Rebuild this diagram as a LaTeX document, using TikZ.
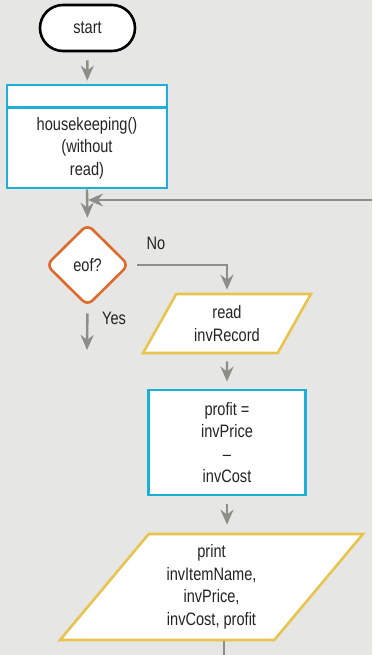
\documentclass[tikz,border=0pt]{standalone}
\usepackage{fontspec}
\setmainfont{Liberation Sans}[FakeStretch=0.81]
\usepackage{xcolor}
\usepackage{tikz}
\usetikzlibrary{arrows.meta,positioning,calc,shapes.geometric}

\definecolor{bgGray}{RGB}{230,230,228}
\definecolor{flowGray}{RGB}{142,142,136}
\definecolor{procBlue}{RGB}{29,176,214}
\definecolor{ioYellow}{RGB}{232,196,78}
\definecolor{decOrange}{RGB}{222,106,44}
\definecolor{textDark}{RGB}{35,35,35}

\tikzset{
    every node/.style={font=\fontsize{18}{22.5}\selectfont, text=textDark, align=center},
    terminal/.style={draw=black, fill=white, line width=2.6pt, rounded corners=23pt,
        minimum width=95pt, minimum height=46pt, inner sep=0pt},
    procbox/.style={draw=procBlue, fill=white, line width=2.8pt, inner sep=0pt},
    iobox/.style={trapezium, draw=ioYellow, fill=white, line width=2.6pt,
        trapezium stretches=true, inner sep=0pt},
    decision/.style={diamond, draw=decOrange, fill=white, line width=2.6pt,
        rounded corners=7pt, inner sep=0pt, minimum width=83pt, minimum height=82pt},
    flow/.style={draw=flowGray, line width=2.4pt, -{Stealth[length=15pt,width=13pt,inset=5pt]}},
    flowline/.style={draw=flowGray, line width=2.4pt},
}

\begin{document}
\begin{tikzpicture}[x=1pt,y=1pt]
    \fill[bgGray] (0,0) rectangle (372,655);
    \useasboundingbox (0,0) rectangle (372,655);

    \node[terminal] (start) at (87.5,627) {start};

    \node[procbox, minimum width=160pt, minimum height=103pt] (hk) at (87,518.5) {};
    \draw[procBlue, line width=2.8pt] ($(hk.north west)+(0,-24)$) -- ($(hk.north east)+(0,-24)$);
    \node (hktext) at (87,507) {housekeeping()\\(without\\read)};

    \node[decision] (eof) at (87.5,390) {eof?};

    \node[iobox, trapezium left angle=59, trapezium right angle=121,
        minimum width=168pt, minimum height=59pt] (read) at (227,331.5) {read\\invRecord};

    \node[procbox, minimum width=157pt, minimum height=105pt] (profit) at (227,212.5)
        {profit =\\invPrice\\--\\invCost};

    \node[iobox, trapezium left angle=53, trapezium right angle=127,
        minimum width=303pt, minimum height=106pt] (print) at (211.5,68)
        {print\\invItemName,\\invPrice,\\invCost, profit};

    \coordinate (loopin) at (372,455);
    \coordinate (yesend) at (87,305);
    \coordinate (botend) at (224,0);

    \node (nolbl) at (156,412) {No};
    \node (yeslbl) at (114,337) {Yes};

    \draw[flow, shorten <=8pt, shorten >=3pt] (start) -- (hk);
    \draw[flow, shorten >=5pt] (hk.south) -- (eof.north);
    \draw[flow, shorten >=1pt] (loopin) -- (hk.south |- loopin);
    \draw[flow, shorten <=7pt, shorten >=3pt] (eof.east) -| (read.north);
    \draw[flow, shorten <=6pt] (eof.south) -- (yesend);
    \draw[flow, shorten <=7pt, shorten >=7pt] (read.south) -- (profit.north);
    \draw[flow, shorten <=8pt, shorten >=8pt] (profit.south) -- (profit.south |- print.north);
    \draw[flowline] (botend |- print.south) -- (botend);
\end{tikzpicture}
\end{document}
